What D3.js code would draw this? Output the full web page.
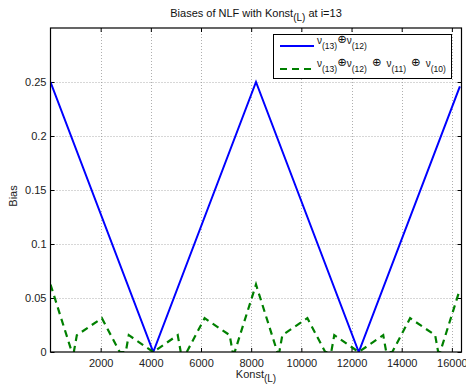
<!DOCTYPE html>
<html>
<head>
<meta charset="utf-8">
<script src="https://cdn.jsdelivr.net/npm/d3@7"></script>
<style>
  html, body { margin: 0; padding: 0; background: #fff; }
  svg { display: block; font-family: "Liberation Sans", Arial, Helvetica, sans-serif; }
</style>
</head>
<body>
<script>
// ---- data ----
const xTicks = [2000, 4000, 6000, 8000, 10000, 12000, 14000, 16000];
const yTicks = [0, 0.05, 0.1, 0.15, 0.2, 0.25];
const yTickLabels = ["0", "0.05", "0.1", "0.15", "0.2", "0.25"];

const blueX = [0, 4096, 8192, 12288, 16320];
const blueY = [0.25, 0, 0.25, 0, 0.246];

const greenX = [0, 850, 930, 1050, 2048, 2760, 3000, 3120, 4096, 5072, 5192, 5432, 6144, 7142, 7262, 7342,
                8192, 9042, 9122, 9242, 10240, 10952, 11192, 11312, 12288, 13264, 13384, 13624, 14336, 15334, 15454, 15534, 16320];
const greenY = [0.0625, 0, 0, 0.0156, 0.0313, 0, 0, 0.0156, 0, 0.0156, 0, 0, 0.0313, 0.0156, 0, 0,
                0.0625, 0, 0, 0.0156, 0.0313, 0, 0, 0.0156, 0, 0.0156, 0, 0, 0.0313, 0.0156, 0, 0, 0.058];

const seriesNames = ["v12", "v10"];
// label pieces: m = main, s = subscript, o = operator, O = spaced operator
const legendLabels = [
  [["m","ν"],["s","(13)"],["o","⊕"],["m","ν"],["s","(12)"]],
  [["m","ν"],["s","(13)"],["o","⊕"],["m","ν"],["s","(12)"],["O","⊕"],["m","ν"],["s","(11)"],["O","⊕"],["m","ν"],["s","(10)"]]
];
const titleParts = [["m","Biases of NLF with Konst"],["s","(L)"],["m"," at i=13"]];
const xLabelParts = [["m","Konst"],["s","(L)"]];
const yLabel = "Bias";

// ---- layout ----
const W = 466, H = 388;
const L = 50.5, R = 461.5, T = 28, B = 352;

const svg = d3.select("body").append("svg").attr("width", W).attr("height", H);
svg.append("rect").attr("width", W).attr("height", H).attr("fill", "#fff");

const x = d3.scaleLinear().domain([0, 16384]).range([L, R]);
const y = d3.scaleLinear().domain([0, 0.3]).range([B, T]);

// grid
const grid = svg.append("g").attr("stroke", "#9a9a9a").attr("stroke-width", 0.8).attr("stroke-dasharray", "1,2");
grid.selectAll("line.gx").data(xTicks).join("line").attr("class","gx")
  .attr("x1", d => Math.round(x(d)) + 0.5).attr("x2", d => Math.round(x(d)) + 0.5)
  .attr("y1", T).attr("y2", B);
grid.selectAll("line.gy").data(yTicks.filter(d => d > 0)).join("line").attr("class","gy")
  .attr("y1", d => Math.round(y(d)) + 0.5).attr("y2", d => Math.round(y(d)) + 0.5)
  .attr("x1", L).attr("x2", R);

// axes
function styleAxis(g) {
  g.select(".domain").remove();
  g.selectAll(".tick line").attr("stroke", "#000");
  g.selectAll(".tick text").attr("fill", "#222").attr("font-size", 11)
   .attr("font-family", '"Liberation Sans", Arial, sans-serif');
}
svg.append("g").attr("transform", `translate(0,${B})`)
  .call(d3.axisBottom(x).tickValues(xTicks).tickSize(-4).tickPadding(7).tickFormat(d3.format("d")))
  .call(styleAxis);
svg.append("g").attr("transform", `translate(0,${T})`)
  .call(d3.axisTop(x).tickValues(xTicks).tickSize(-4).tickFormat(""))
  .call(styleAxis);
svg.append("g").attr("transform", `translate(${L},0)`)
  .call(d3.axisLeft(y).tickValues(yTicks).tickSize(-4).tickPadding(4).tickFormat((d, i) => yTickLabels[i]))
  .call(styleAxis);
svg.append("g").attr("transform", `translate(${R},0)`)
  .call(d3.axisRight(y).tickValues(yTicks).tickSize(-4).tickFormat(""))
  .call(styleAxis);

// clip
svg.append("clipPath").attr("id", "clip").append("rect")
  .attr("x", L).attr("y", T).attr("width", R - L).attr("height", B - T);

const line = d3.line().x(d => x(d[0])).y(d => y(d[1]));
const plot = svg.append("g").attr("clip-path", "url(#clip)");
plot.append("path").datum(blueX.map((v, i) => [v, blueY[i]]))
  .attr("d", line).attr("fill", "none").attr("stroke", "#0000ff").attr("stroke-width", 2)
  .attr("stroke-linejoin", "miter");
plot.append("path").datum(greenX.map((v, i) => [v, greenY[i]]))
  .attr("d", line).attr("fill", "none").attr("stroke", "#008000").attr("stroke-width", 2.2)
  .attr("stroke-dasharray", "7,5");

// frame
svg.append("rect").attr("x", L).attr("y", T).attr("width", R - L).attr("height", B - T)
  .attr("fill", "none").attr("stroke", "#000").attr("stroke-width", 1.2);

// rich text helper
function rich(textSel, parts, o) {
  let cur = 0;
  let prevSpaced = false;
  parts.forEach(([k, t]) => {
    const ts = textSel.append("tspan").text(t);
    let target = 0;
    if (k === "s") {
      ts.attr("font-size", o.subSize);
      target = o.subDy;
    } else if (k === "o" || k === "O") {
      ts.attr("font-size", o.opSize).attr("font-family", '"DejaVu Sans", sans-serif');
      target = o.opDy || 0;
    } else {
      ts.attr("font-size", o.mainSize);
    }
    if (target !== cur) { ts.attr("dy", target - cur); cur = target; }
    if (k === "O" || prevSpaced) ts.attr("dx", o.opGap || 0);
    prevSpaced = (k === "O");
  });
  return textSel;
}

// title
rich(svg.append("text").attr("x", (L + R) / 2).attr("y", 17).attr("text-anchor", "middle").attr("fill", "#111"),
  titleParts, { mainSize: 11, subSize: 10, subDy: 4 });

// x label
rich(svg.append("text").attr("x", (L + R) / 2).attr("y", 378).attr("text-anchor", "middle").attr("fill", "#222"),
  xLabelParts, { mainSize: 11, subSize: 10, subDy: 4 });

// y label
svg.append("text").attr("transform", "translate(17,196) rotate(-90)").attr("text-anchor", "middle")
  .attr("font-size", 11).attr("fill", "#222").text(yLabel);

// legend
const lg = svg.append("g");
lg.append("rect").attr("x", 273.5).attr("y", 34.5).attr("width", 178).attr("height", 44)
  .attr("fill", "#fff").attr("stroke", "#000").attr("stroke-width", 1);
const legendStyles = [
  { color: "#0000ff", dash: null, width: 2 },
  { color: "#008000", dash: "7,5", width: 2.2 }
];
const rowY = [46, 69];
seriesNames.forEach((name, i) => {
  lg.append("line").attr("x1", 280).attr("x2", 314).attr("y1", rowY[i]).attr("y2", rowY[i])
    .attr("stroke", legendStyles[i].color).attr("stroke-width", legendStyles[i].width)
    .attr("stroke-dasharray", legendStyles[i].dash);
  const t = lg.append("text").attr("x", 317).attr("y", rowY[i] - 2).attr("fill", "#111").attr("font-size", 10);
  rich(t, legendLabels[i], { mainSize: 10, subSize: 8.5, subDy: 5, opSize: 11.5, opDy: -1, opGap: 5 });
});
</script>
</body>
</html>
